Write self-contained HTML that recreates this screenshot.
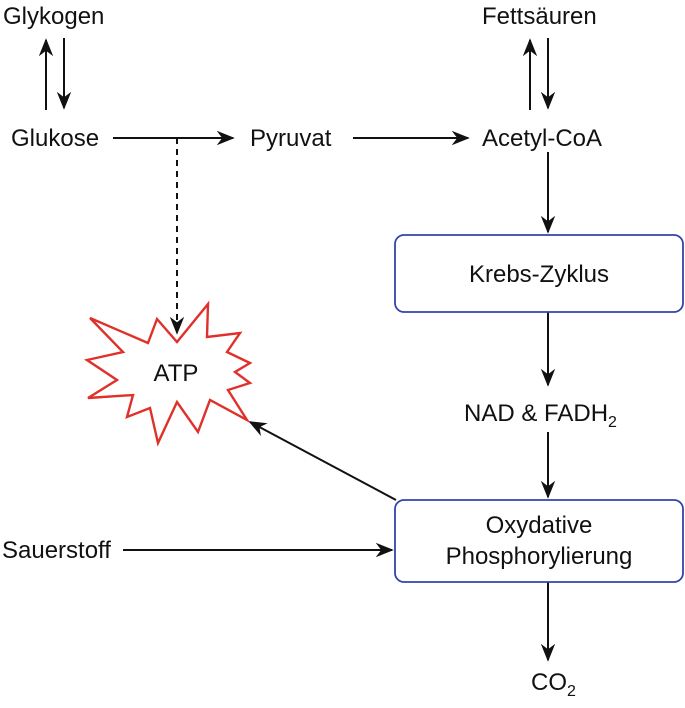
<!DOCTYPE html>
<html><head><meta charset="utf-8"><style>
body{margin:0;background:#fff}
svg text{font-family:"Liberation Sans",Arial,sans-serif;font-size:24px;fill:#111}
</style></head><body>
<svg width="685" height="703" viewBox="0 0 685 703">
<defs>
<marker id="b" viewBox="0 0 10 10" refX="9" refY="5" markerWidth="18" markerHeight="18" markerUnits="userSpaceOnUse" orient="auto"><path d="M0,1 L10,5 L0,9 L3,5z" fill="#111"/></marker></defs>
<g stroke="#111" stroke-width="2" fill="none">
<line x1="46" y1="110" x2="46" y2="40" marker-end="url(#b)"/>
<line x1="64" y1="38" x2="64" y2="108" marker-end="url(#b)"/>
<line x1="113" y1="138" x2="233" y2="138" marker-end="url(#b)"/>
<line x1="177" y1="138" x2="177" y2="333" stroke-dasharray="6,5" marker-end="url(#b)"/>
<line x1="353" y1="138" x2="468" y2="138" marker-end="url(#b)"/>
<line x1="530" y1="110" x2="530" y2="40" marker-end="url(#b)"/>
<line x1="548" y1="38" x2="548" y2="108" marker-end="url(#b)"/>
<line x1="548" y1="152" x2="548" y2="232" marker-end="url(#b)"/>
<line x1="548" y1="312" x2="548" y2="385" marker-end="url(#b)"/>
<line x1="548" y1="432" x2="548" y2="497" marker-end="url(#b)"/>
<line x1="548" y1="582" x2="548" y2="660" marker-end="url(#b)"/>
<line x1="123" y1="550" x2="392" y2="550" marker-end="url(#b)"/>
<line x1="396" y1="500" x2="250" y2="422" marker-end="url(#b)"/>
</g>
<rect x="395" y="235" width="288" height="77" rx="9" fill="#fff" stroke="#3344aa" stroke-width="1.8"/>
<rect x="395" y="500" width="288" height="82" rx="9" fill="#fff" stroke="#3344aa" stroke-width="1.8"/>
<polygon points="90,318 148,343 157,319 177,342 208,304 207,337 240,333 227,352 250,363 235,372 250,383 228,390 247,420 210,400 198,432 177,402 158,443 150,408 127,417 133,395 88,398 117,380 87,360 123,352" fill="#fff" stroke="#e0302a" stroke-width="2.4"/>
<text x="3" y="24">Glykogen</text>
<text x="11" y="146">Glukose</text>
<text x="250" y="146">Pyruvat</text>
<text x="482" y="146">Acetyl-CoA</text>
<text x="482" y="24">Fettsäuren</text>
<text x="539" y="282" text-anchor="middle">Krebs-Zyklus</text>
<text x="464" y="421">NAD &amp; FADH<tspan font-size="16" dy="6">2</tspan></text>
<text x="539" y="533" text-anchor="middle">Oxydative</text>
<text x="539" y="564" text-anchor="middle">Phosphorylierung</text>
<text x="531" y="690">CO<tspan font-size="16" dy="6">2</tspan></text>
<text x="2" y="558">Sauerstoff</text>
<text x="176" y="381" text-anchor="middle">ATP</text>
</svg>
</body></html>
